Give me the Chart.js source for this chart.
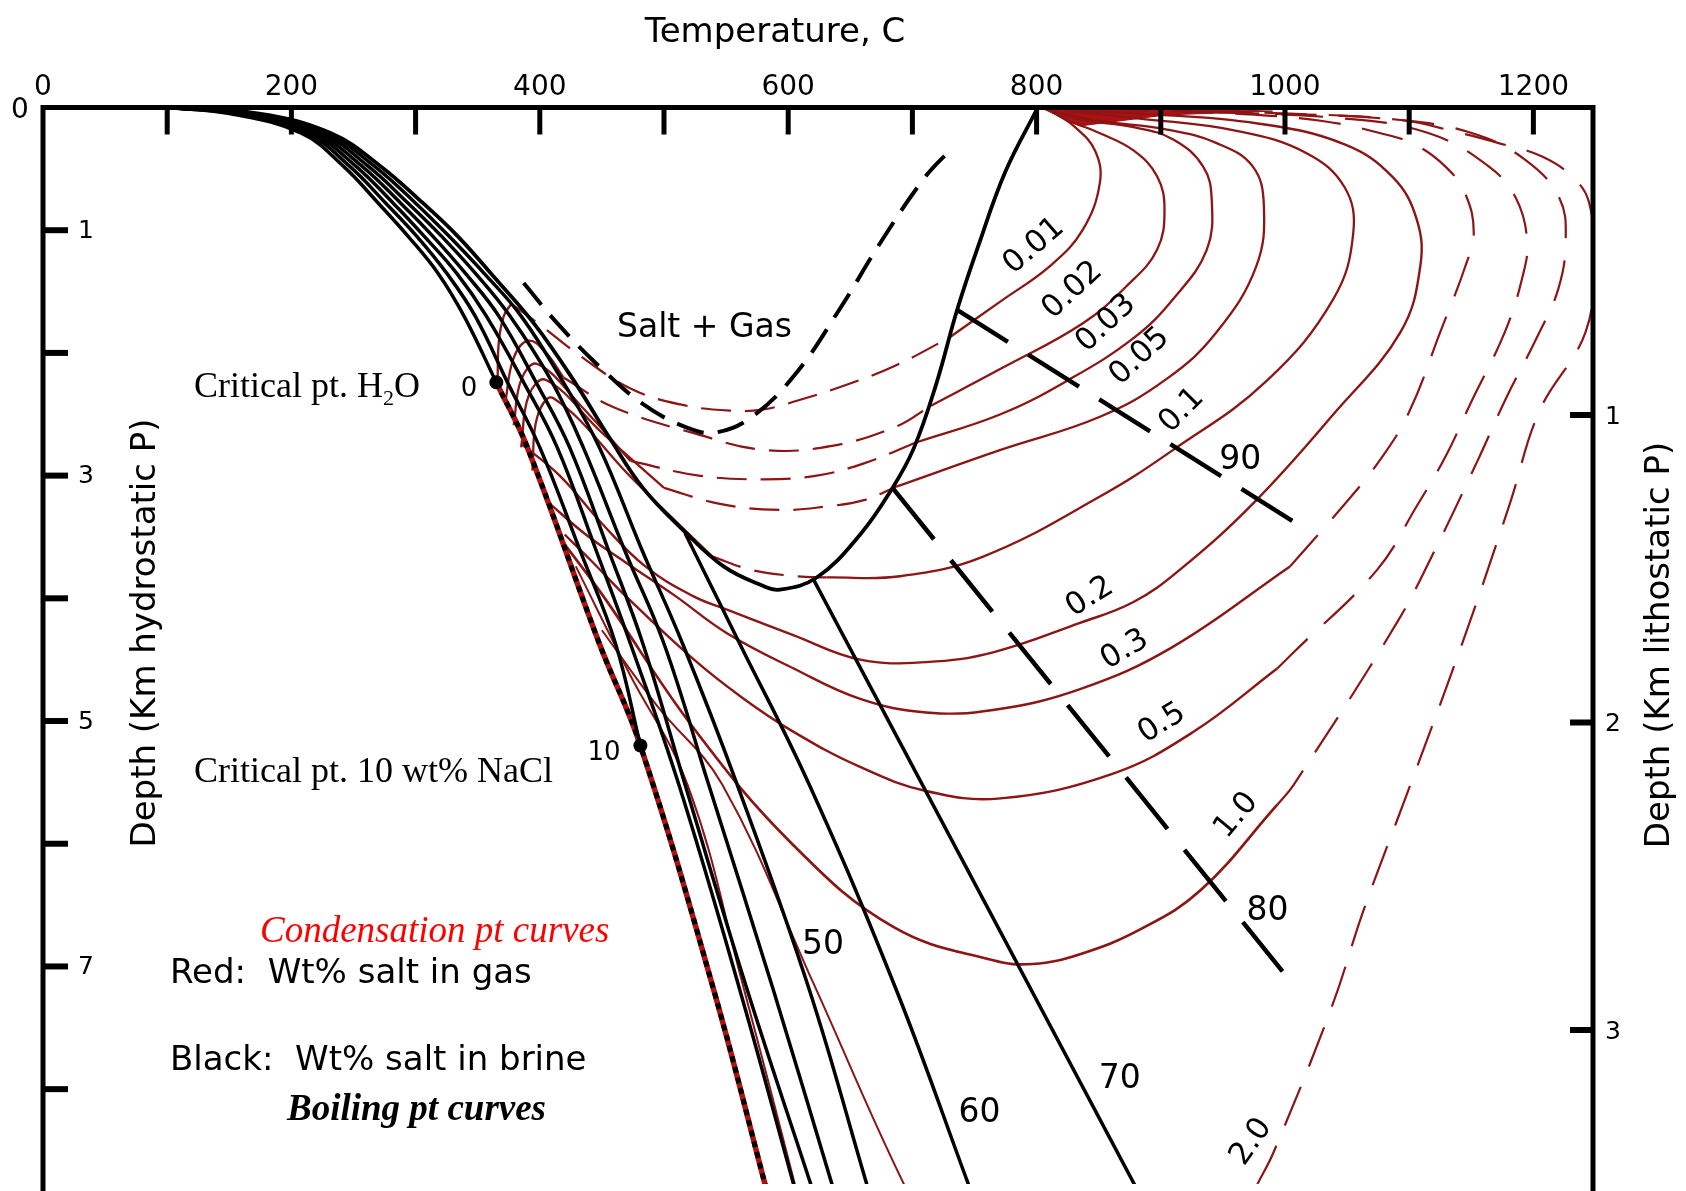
<!DOCTYPE html>
<html>
<head>
<meta charset="utf-8">
<script src="https://cdn.jsdelivr.net/npm/chart.js@4.4.0/dist/chart.umd.min.js"></script>
<style>
  html, body { margin: 0; padding: 0; background: #fff; }
  canvas { display: block; }
</style>
</head>
<body>
<canvas id="chart" width="1686" height="1191"></canvas>
<script>
// NaCl-H2O boiling / condensation curves, depth vs temperature
// points are [temperature C, depth km (hydrostatic)]

const tempTicks = [100, 200, 300, 400, 500, 600, 700, 800, 900, 1000, 1100, 1200];
const tempLabels = [0, 200, 400, 600, 800, 1000, 1200];
const depthTicks = [1, 2, 3, 4, 5, 6, 7, 8];
const depthLabels = [1, 3, 5, 7];
const lithoTicks = [1, 2, 3];

// black: wt% salt in brine (boiling pt curves)
const brine0 = [[100,0],[150,0.05],[208,0.21],[242,0.48],[270,0.78],[294,1.05],[318,1.35],[339,1.70],[365,2.24]];
const brine10 = [[100,0],[154,0.05],[212,0.21],[247,0.48],[276,0.78],[301,1.05],[325,1.35],[348,1.70],[374,2.24],[400,2.77],[432,3.6],[461,4.37],[481,5.2]];
const brine20 = [[100,0],[158,0.05],[216,0.21],[252,0.48],[282,0.78],[307,1.05],[333,1.35],[357,1.70],[387,2.24],[414,2.77],[445,3.6],[473,4.37],[512,5.52],[561,7.19],[605,8.8]];
const brine30 = [[100,0],[162,0.05],[220,0.21],[257,0.48],[288,0.78],[314,1.05],[340,1.35],[367,1.70],[397,2.24],[424,2.77],[455,3.6],[483,4.37],[517,5.52],[567,7.19],[619,8.8]];
const brine40 = [[100,0],[166,0.05],[224,0.21],[262,0.48],[294,0.78],[321,1.05],[348,1.35],[376,1.70],[410,2.24],[435,2.77],[468,3.6],[500,4.37],[536,5.52],[588,7.19],[636,8.8]];
const brine50 = [[100,0],[170,0.05],[228,0.21],[267,0.48],[300,0.78],[327,1.05],[355,1.35],[385,1.70],[419,2.24],[448,2.77],[482,3.6],[515,4.37],[559,5.52],[617,7.19],[664,8.8]];
const halite = [[100,0],[174,0.05],[232,0.21],[272,0.48],[306,0.78],[334,1.05],[363,1.38],[396,1.77],[427,2.22],[456,2.69],[483,3.10],[515,3.44],[548,3.74],[580,3.90],[593,3.93],[623,3.83],[658,3.48],[684,3.10],[701,2.78],[719,2.26],[736,1.65],[753,1.13],[775,0.52],[801,0]];
const brine60 = [[517,3.47],[561,4.37],[617,5.52],[687,7.19],[746,8.8]];
const brine70 = [[620,3.84],[880,8.8]];
const brine80 = [[684,3.10],[998,7.04]];
const brine90 = [[736,1.65],[1006,3.37]];
const criticalCurve = [[365,2.24],[390,2.77],[448,4.37],[481,5.2],[540,7.19],[582,8.8]];
const criticalPoints = [[365,2.24],[481,5.2]];
const saltGas = [[387,1.43],[416,1.78],[450,2.13],[485,2.43],[519,2.61],[541,2.65],[571,2.52],[606,2.17],[641,1.65],[675,1.09],[710,0.57],[732,0.33]];

// red: wt% salt in gas (condensation pt curves)
const gas001Left = [[366,2.24],[367,1.91],[371,1.70],[377,1.60]];
const gas001Mid = [[377,1.60],[400,1.77],[432,2.02],[473,2.29],[513,2.42],[553,2.47],[580,2.46],[607,2.39],[647,2.26],[687,2.10],[729,1.88]];
const gas001Right = [[729,1.88],[771,1.58],[811,1.29],[837,1.00],[851,0.61],[847,0.35],[831,0.16],[812,0.03],[806,0]];
const gas002Left = [[372,2.42],[379,2.04],[391,1.90],[405,2.00],[419,2.20]];
const gas002Mid = [[419,2.20],[459,2.44],[526,2.66],[580,2.79],[634,2.76],[687,2.60],[715,2.43]];
const gas002Right = [[715,2.43],[771,2.13],[837,1.76],[873,1.45],[897,1.16],[903,0.83],[897,0.56],[878,0.35],[851,0.21],[824,0.10],[810,0.02]];
const gas003Left = [[379,2.59],[385,2.22],[398,2.09],[433,2.43],[473,2.88]];
const gas003Mid = [[473,2.88],[528,3.00],[580,3.03],[623,3.00],[661,2.90],[703,2.73]];
const gas003Right = [[703,2.73],[771,2.50],[824,2.23],[878,1.88],[910,1.56],[937,1.16],[941,0.75],[934,0.48],[910,0.26],[878,0.16],[837,0.10],[814,0.03]];
const gas005Left = [[385,2.77],[391,2.35],[405,2.22],[450,2.65],[500,3.10]];
const gas005Mid = [[500,3.10],[545,3.23],[593,3.28],[632,3.25],[661,3.20],[687,3.09]];
const gas005Right = [[687,3.09],[771,2.79],[851,2.52],[905,2.21],[945,1.83],[977,1.29],[983,0.80],[974,0.48],[945,0.29],[905,0.18],[851,0.11],[818,0.04]];
const gas01Left = [[394,2.96],[398,2.52],[411,2.37],[476,3.04],[539,3.66]];
const gas01Mid = [[539,3.66],[571,3.77],[607,3.82],[631,3.83]];
const gas01Right = [[631,3.83],[690,3.82],[757,3.66],[851,3.17],[910,2.79],[985,2.23],[1039,1.56],[1055,1.02],[1048,0.65],[1017,0.37],[961,0.19],[883,0.09],[823,0.03]];
const gas02 = [[385,2.74],[416,3.00],[450,3.39],[485,3.74],[523,3.98],[550,4.09],[604,4.30],[658,4.50],[711,4.52],[765,4.44],[835,4.20],[878,4.03],[915,3.77],[974,3.23],[1039,2.50],[1093,1.83],[1109,1.29],[1106,0.91],[1087,0.57],[1048,0.30],[978,0.13],[883,0.05],[831,0.03]];
const gas03Solid = [[407,3.22],[437,3.48],[468,3.70],[509,3.98],[550,4.28],[604,4.57],[658,4.82],[711,4.93],[765,4.91],[835,4.74],[909,4.40],[1004,3.74]];
const gas03Dash = [[1004,3.74],[1044,3.28],[1076,2.88],[1100,2.48],[1125,1.83],[1145,1.30],[1152,1.02],[1145,0.70],[1129,0.48],[1104,0.30],[1077,0.21],[1030,0.11],[961,0.05],[874,0.02]];
const gas05Solid = [[420,3.48],[442,3.70],[469,3.98],[523,4.49],[563,4.81],[603,5.08],[657,5.37],[711,5.57],[771,5.63],[861,5.43],[926,5.09],[994,4.57]];
const gas05Dash = [[994,4.57],[1007,4.44],[1074,3.77],[1106,3.25],[1130,2.83],[1149,2.42],[1177,1.83],[1191,1.39],[1195,1.09],[1186,0.74],[1164,0.48],[1116,0.21],[1048,0.09],[918,0.03]];
const gas10Solid = [[417,3.52],[451,3.98],[524,5.06],[604,6.01],[685,6.68],[765,6.95],[797,6.98],[835,6.90],[883,6.70],[932,6.38],[994,5.68]];
const gas10Dash = [[994,5.68],[1007,5.52],[1090,4.20],[1122,3.58],[1155,2.88],[1178,2.37],[1203,1.87],[1220,1.48],[1226,1.09],[1221,0.74],[1194,0.43],[1151,0.21],[1091,0.10],[1004,0.05],[918,0.03]];
const gas20Solid = [[450,4.26],[494,4.87],[547,5.52],[620,7.13],[693,8.77],[745,9.74],[831,10.09],[918,9.65],[978,8.77]];
const gas20Dash = [[978,8.77],[991,8.51],[1038,7.32],[1063,6.55],[1098,5.60],[1144,4.33],[1181,3.23],[1205,2.47],[1242,1.83],[1249,1.22],[1245,0.78],[1233,0.58],[1207,0.40],[1172,0.29],[1142,0.21],[1091,0.10],[961,0.04]];
const gasNearCritical = [[429,3.74],[472,4.61],[519,5.52],[563,7.13],[606,8.8]];
// where the gas curves pile up at the surface
const gasWedge = [[803,0],[905,0],[990,0.03],[905,0.06],[835,0.15],[803,0]];

// curve labels
const gasLabels = ['0.01', '0.02', '0.03', '0.05', '0.1', '0.2', '0.3', '0.5', '1.0', '2.0'];
const gasLabelT = [798, 829, 856, 883, 917, 843, 871, 901, 961, 973];
const gasLabelD = [1.13, 1.49, 1.76, 2.03, 2.47, 3.99, 4.42, 5.02, 5.77, 8.43];
const gasLabelAngle = [-41, -43, -43, -43, -45, -32, -31, -32, -50, -55];
const brineLabels = ['50', '60', '70', '80', '90'];
const brineLabelT = [628, 754, 867, 986, 964];
const brineLabelD = [6.83, 8.20, 7.92, 6.55, 2.88];

const T_MAX = 1248;
const D_MAX = 8.773;
const LITHO = 2.506; // km hydrostatic per km lithostatic

const RED = '#8c1515';
const BLACK = '#000';
const SANS = '"DejaVu Sans", sans-serif';
const SERIF = '"Liberation Serif", "Times New Roman", serif';

function line(points, color, width, dash, tension) {
    return {
        data: points.map(p => ({ x: p[0], y: p[1] })),
        showLine: true,
        borderColor: color,
        borderWidth: width,
        borderDash: dash || [],
        tension: tension === undefined ? 0.4 : tension,
        pointRadius: 0,
        fill: false,
        borderCapStyle: 'butt',
        borderJoinStyle: 'round'
    };
}

const redDash = [30, 14];
const redLongDash = [42, 22];

const wedge = line(gasWedge, RED, 1, null, 0);
wedge.fill = 'shape';
wedge.backgroundColor = '#b01010';

// first dataset is drawn on top
const datasets = [
    {
        data: criticalPoints.map(p => ({ x: p[0], y: p[1] })),
        showLine: false, pointRadius: 7, pointBackgroundColor: BLACK, pointBorderWidth: 0
    },
    line(brine0, BLACK, 3.5),
    line(brine10, BLACK, 3.5),
    line(brine20, BLACK, 3.5),
    line(brine30, BLACK, 3.5),
    line(brine40, BLACK, 3.5),
    line(brine50, BLACK, 3.5),
    line(halite, BLACK, 3.8),
    line(brine60, BLACK, 3.5),
    line(brine70, BLACK, 3.5, null, 0),
    line(brine80, BLACK, 4.5, [66, 27], 0),
    line(brine90, BLACK, 4.5, [60, 24], 0),
    line(saltGas, BLACK, 4, [28, 14]),
    line(criticalCurve, BLACK, 5, [6, 5]),
    line(criticalCurve, '#b01010', 5.5),

    line(gas001Left, RED, 2.3), line(gas001Mid, RED, 2.2, redDash), line(gas001Right, RED, 2.3),
    line(gas002Left, RED, 2.3), line(gas002Mid, RED, 2.2, redDash), line(gas002Right, RED, 2.3),
    line(gas003Left, RED, 2.3), line(gas003Mid, RED, 2.2, redDash), line(gas003Right, RED, 2.3),
    line(gas005Left, RED, 2.3), line(gas005Mid, RED, 2.2, redDash), line(gas005Right, RED, 2.3),
    line(gas01Left, RED, 2.3), line(gas01Mid, RED, 2.2, redDash), line(gas01Right, RED, 2.3),
    line(gas02, RED, 2.4),
    line(gas03Solid, RED, 2.4), line(gas03Dash, RED, 2.2, redLongDash),
    line(gas05Solid, RED, 2.4), line(gas05Dash, RED, 2.2, redLongDash),
    line(gas10Solid, RED, 2.7), line(gas10Dash, RED, 2.2, redLongDash),
    line(gas20Solid, RED, 2.0), line(gas20Dash, RED, 2.2, redLongDash),
    line(gasNearCritical, RED, 2.0),
    wedge
];

// axes, ticks and all the texts
const decorPlugin = {
    id: 'decor',
    afterDatasetsDraw(chart) {
        const { ctx, chartArea: a } = chart;
        const x = chart.scales.x, y = chart.scales.y, y2 = chart.scales.y2;
        ctx.save();
        ctx.fillStyle = BLACK;
        ctx.strokeStyle = BLACK;

        // frame (top, left, right)
        ctx.lineWidth = 5;
        ctx.lineCap = 'square';
        ctx.beginPath();
        ctx.moveTo(a.left, a.bottom + 5);
        ctx.lineTo(a.left, a.top);
        ctx.lineTo(a.right, a.top);
        ctx.lineTo(a.right, a.bottom + 5);
        ctx.stroke();
        ctx.lineCap = 'butt';

        // top ticks, inward
        tempTicks.forEach(t => {
            const px = x.getPixelForValue(t);
            ctx.beginPath();
            ctx.moveTo(px, a.top);
            ctx.lineTo(px, a.top + 27);
            ctx.stroke();
        });
        ctx.font = '28px ' + SANS;
        ctx.textAlign = 'center';
        ctx.textBaseline = 'alphabetic';
        tempLabels.forEach(t => ctx.fillText(String(t), x.getPixelForValue(t), 95));

        // left ticks
        ctx.lineWidth = 6;
        depthTicks.forEach(d => {
            const py = y.getPixelForValue(d);
            ctx.beginPath();
            ctx.moveTo(a.left, py);
            ctx.lineTo(a.left + 25, py);
            ctx.stroke();
        });
        ctx.font = '25px ' + SANS;
        ctx.textAlign = 'left';
        ctx.textBaseline = 'middle';
        depthLabels.forEach(d => ctx.fillText(String(d), a.left + 35, y.getPixelForValue(d) + 1));
        ctx.textAlign = 'center';
        ctx.font = '28px ' + SANS;
        ctx.fillText('0', 20, 111);

        // right ticks (lithostatic)
        lithoTicks.forEach(d => {
            const py = y2.getPixelForValue(d);
            ctx.beginPath();
            ctx.moveTo(a.right, py);
            ctx.lineTo(a.right - 23, py);
            ctx.stroke();
        });
        ctx.font = '25px ' + SANS;
        ctx.textAlign = 'left';
        lithoTicks.forEach(d => ctx.fillText(String(d), a.right + 12, y2.getPixelForValue(d) + 2));

        // axis titles
        ctx.font = '34px ' + SANS;
        ctx.textAlign = 'center';
        ctx.textBaseline = 'alphabetic';
        ctx.fillText('Temperature, C', 775, 42);
        ctx.textBaseline = 'middle';
        ctx.save();
        ctx.translate(146, 633);
        ctx.rotate(-Math.PI / 2);
        ctx.fillText('Depth (Km hydrostatic P)', 0, 0);
        ctx.restore();
        ctx.save();
        ctx.translate(1660, 645);
        ctx.rotate(-Math.PI / 2);
        ctx.fillText('Depth (Km lithostatic P)', 0, 0);
        ctx.restore();

        // curve labels
        ctx.font = '31px ' + SANS;
        ctx.textAlign = 'center';
        ctx.textBaseline = 'middle';
        gasLabels.forEach((txt, i) => {
            ctx.save();
            ctx.translate(x.getPixelForValue(gasLabelT[i]), y.getPixelForValue(gasLabelD[i]));
            ctx.rotate(gasLabelAngle[i] * Math.PI / 180);
            ctx.fillText(txt, 0, 0);
            ctx.restore();
        });
        ctx.font = '33px ' + SANS;
        brineLabels.forEach((txt, i) => {
            ctx.fillText(txt, x.getPixelForValue(brineLabelT[i]), y.getPixelForValue(brineLabelD[i]));
        });
        ctx.font = '26px ' + SANS;
        ctx.fillText('0', 469, 389);
        ctx.fillText('10', 604, 753);

        // region and legend texts
        ctx.textAlign = 'left';
        ctx.textBaseline = 'alphabetic';
        ctx.font = '33px ' + SANS;
        ctx.fillText('Salt + Gas', 617, 337);
        ctx.font = '34px ' + SANS;
        ctx.fillText('Red:  Wt% salt in gas', 170, 983);
        ctx.fillText('Black:  Wt% salt in brine', 170, 1070);

        ctx.font = '36px ' + SERIF;
        ctx.fillText('Critical pt. H', 194, 397);
        const w = ctx.measureText('Critical pt. H').width;
        ctx.font = '22px ' + SERIF;
        ctx.fillText('2', 194 + w, 405);
        const w2 = ctx.measureText('2').width;
        ctx.font = '36px ' + SERIF;
        ctx.fillText('O', 194 + w + w2, 397);
        ctx.fillText('Critical pt. 10 wt% NaCl', 194, 782);

        ctx.fillStyle = '#ff0000';
        ctx.font = 'italic 37px ' + SERIF;
        ctx.fillText('Condensation pt curves', 260, 942);
        ctx.fillStyle = BLACK;
        ctx.font = 'italic bold 37px ' + SERIF;
        ctx.fillText('Boiling pt curves', 287, 1120);

        ctx.restore();
    }
};

new Chart(document.getElementById('chart'), {
    type: 'scatter',
    data: { datasets: datasets },
    options: {
        responsive: false,
        animation: false,
        devicePixelRatio: 1,
        layout: { padding: { left: 43, top: 107.5, right: 93, bottom: 0 } },
        plugins: { legend: { display: false }, tooltip: { enabled: false } },
        scales: {
            x: { type: 'linear', min: 0, max: T_MAX, display: false },
            y: { type: 'linear', min: 0, max: D_MAX, reverse: true, display: false },
            y2: { type: 'linear', min: 0, max: D_MAX / LITHO, reverse: true, display: false }
        }
    },
    plugins: [decorPlugin]
});
</script>
</body>
</html>
